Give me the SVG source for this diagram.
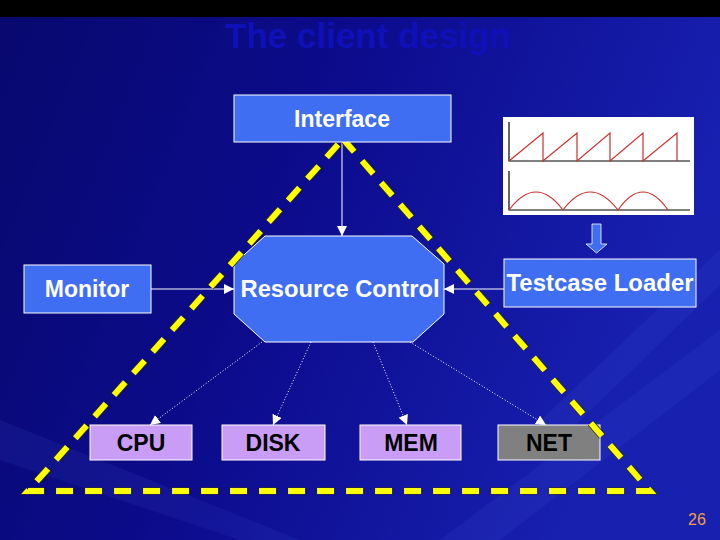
<svg xmlns="http://www.w3.org/2000/svg" width="720" height="540" viewBox="0 0 720 540">
<defs>
<linearGradient id="bg" x1="0" y1="0" x2="1" y2="0.3">
<stop offset="0" stop-color="#08086e"/>
<stop offset="0.5" stop-color="#0c0c8e"/>
<stop offset="1" stop-color="#1820b0"/>
</linearGradient>
<marker id="ah" viewBox="0 0 10 10" refX="10" refY="5" markerWidth="10" markerHeight="10" markerUnits="userSpaceOnUse" orient="auto">
<path d="M0,0 L10,5 L0,10 z" fill="#ffffff"/>
</marker>
<style>
.box{fill:#3f6ef2;stroke:#ffffff;stroke-width:1}
.res{fill:#c99cf6;stroke:#ffffff;stroke-width:1}
.net{fill:#808080;stroke:#ffffff;stroke-width:1}
.wt{font-family:"Liberation Sans",Arial,sans-serif;font-weight:bold;font-size:23px;fill:#ffffff;text-anchor:middle}
.bt{font-family:"Liberation Sans",Arial,sans-serif;font-weight:bold;font-size:23px;fill:#000000;text-anchor:middle}
.solid{stroke:#ffffff;stroke-width:1;fill:none;marker-end:url(#ah)}
.dot{stroke:#ffffff;stroke-width:1;stroke-dasharray:1 2;fill:none;marker-end:url(#ah)}
.tri{stroke:#ffff00;stroke-width:6;stroke-dasharray:17 12;fill:none}
.tri-edge{stroke:#2a2a30;stroke-width:7.5;stroke-dasharray:17 12;fill:none}
.wave{stroke:#cc3030;stroke-width:1.2;fill:none}
.axis{stroke:#000000;stroke-width:1.2;fill:none}
</style>
</defs>
<rect x="0" y="0" width="720" height="540" fill="url(#bg)"/>
<g opacity="0.08" fill="#6080ff">
<polygon points="440,540 720,330 720,370 500,540"/>
<polygon points="520,440 720,250 720,285 560,440"/>
<polygon points="0,420 300,540 240,540 0,460"/>
</g>
<rect x="0" y="0" width="720" height="17" fill="#000000"/>
<text x="368" y="48" font-family="'Liberation Sans',Arial,sans-serif" font-weight="bold" font-size="35" fill="#1010b8" text-anchor="middle">The client design</text>

<g id="connectors">
<line class="solid" x1="342" y1="142" x2="342" y2="236"/>
<line class="solid" x1="151" y1="289" x2="234" y2="289"/>
<line class="solid" x1="504" y1="289" x2="444" y2="289"/>
<line class="dot" x1="262" y1="342" x2="150" y2="425"/>
<line class="dot" x1="311" y1="342" x2="273" y2="425"/>
<line class="dot" x1="373" y1="342" x2="407" y2="425"/>
<line class="dot" x1="410" y1="342" x2="546" y2="425"/>
</g>

<g id="resource-control">
<polygon class="box" points="265,236 412,236 444,264 444,314 413,342 265,342 234,314 234,264"/>
<text class="wt" x="340" y="297" textLength="199" lengthAdjust="spacingAndGlyphs">Resource Control</text>
</g>

<g id="monitor">
<rect class="box" x="24" y="265" width="127" height="48"/>
<text class="wt" x="87" y="297">Monitor</text>
</g>

<g id="testcase-loader">
<rect class="box" x="504" y="259" width="192" height="48"/>
<text class="wt" x="600" y="291" textLength="187" lengthAdjust="spacingAndGlyphs">Testcase Loader</text>
</g>

<g id="waveforms">
<rect x="503" y="117" width="191" height="98" fill="#ffffff"/>
<path class="axis" d="M509,122 L509,161 L690,161"/>
<path class="wave" d="M509,161 L543,133 L543,161 L577,133 L577,161 L610,133 L610,161 L643,133 L643,161 L677,133 L677,161"/>
<path class="axis" d="M509,171 L509,210 L690,210"/>
<path class="wave" d="M509,210 Q536,174 563,210 Q590,174 618,210 Q643,174 668,210"/>
</g>

<g id="down-arrow">
<path d="M592,224 L601,224 L601,244 L607,244 L596.5,253 L586,244 L592,244 Z" fill="#3f6ef2" stroke="#ffffff" stroke-width="0.8"/>
</g>

<g id="cpu">
<rect class="res" x="90" y="425" width="102" height="35"/>
<text class="bt" x="141" y="451">CPU</text>
</g>
<g id="disk">
<rect class="res" x="222" y="425" width="103" height="35"/>
<text class="bt" x="273" y="451">DISK</text>
</g>
<g id="mem">
<rect class="res" x="360" y="425" width="101" height="35"/>
<text class="bt" x="411" y="451">MEM</text>
</g>
<g id="net">
<rect class="net" x="498" y="425" width="102" height="35"/>
<text class="bt" x="549" y="451">NET</text>
</g>

<g id="triangle">
<path class="tri-edge" d="M343,139 L650,491 L28,491 Z"/>
<path class="tri" d="M343,139 L650,491 L28,491 Z"/>
</g>

<g id="interface">
<rect class="box" x="234" y="95" width="217" height="47"/>
<text class="wt" x="342" y="127">Interface</text>
</g>

<text x="697" y="525" font-family="'Liberation Sans',Arial,sans-serif" font-size="16" fill="#f0a040" text-anchor="middle">26</text>
</svg>
